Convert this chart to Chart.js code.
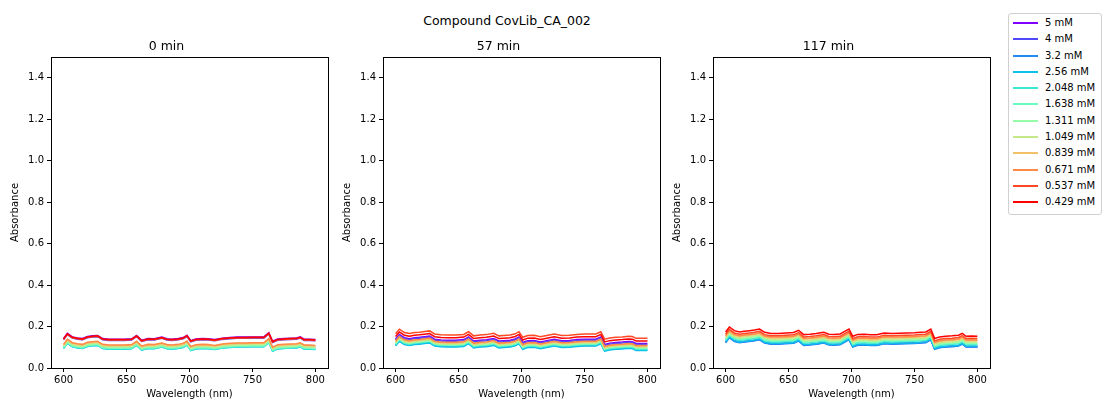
<!DOCTYPE html>
<html>
<head>
<meta charset="utf-8">
<script src="https://cdn.jsdelivr.net/npm/chart.js@4"></script>
<style>
  body { margin: 0; width: 1102px; height: 403px; background: #fff; position: relative; overflow: hidden; font-family: "DejaVu Sans", sans-serif; color: #000; }
  .panel { position: absolute; top: 37px; width: 327px; height: 366px; }
  #suptitle { position: absolute; top: 13px; left: 0; width: 1014px; text-align: center; font-size: 12.5px; }
  #legend { position: absolute; left: 1008px; top: 13px; width: 92px; height: 199px; border: 1px solid #d0d0d0; border-radius: 3px; padding-top: 1px; font-size: 10px; }
  #legend .row { height: 16.3px; line-height: 16.3px; position: relative; white-space: nowrap; }
  #legend .swatch { position: absolute; left: 4px; top: 7px; width: 25px; height: 2px; }
  #legend .lab { position: absolute; left: 36px; }
</style>
</head>
<body>
<div id="suptitle">Compound CovLib_CA_002</div>
<div class="panel" style="left:5px"><canvas id="c0"></canvas></div>
<div class="panel" style="left:337px"><canvas id="c1"></canvas></div>
<div class="panel" style="left:667px"><canvas id="c2"></canvas></div>
<div id="legend"></div>
<script>
// wavelengths (nm)
const wavelengths = [600, 603, 607, 611, 615, 619, 623, 627, 631, 636, 642, 648, 654, 658, 662, 667, 672, 678, 682, 686,
  691, 695, 698, 701, 705, 710, 715, 720, 726, 732, 738, 744, 750, 755, 759, 763, 766, 770, 775, 780, 785, 788, 791, 795, 800];

const concLabels = ["5 mM", "4 mM", "3.2 mM", "2.56 mM", "2.048 mM", "1.638 mM", "1.311 mM", "1.049 mM", "0.839 mM", "0.671 mM", "0.537 mM", "0.429 mM"];
const lineColors = ["#8000ff", "#5148fc", "#238af5", "#0cc1e8", "#3ae8d6", "#68fcc1", "#97fca7", "#c5e88a", "#f3c16a", "#ff8a48", "#ff4824", "#ff0000"];
const panelTitles = ["0 min", "57 min", "117 min"];

// top trace of each panel
const top0 = [0.140, 0.165, 0.148, 0.143, 0.140, 0.150, 0.153, 0.155, 0.140, 0.137, 0.137, 0.137, 0.139, 0.155, 0.132, 0.140, 0.139, 0.147, 0.139, 0.137,
  0.140, 0.145, 0.156, 0.130, 0.138, 0.140, 0.139, 0.135, 0.142, 0.145, 0.147, 0.147, 0.148, 0.148, 0.148, 0.168, 0.127, 0.138, 0.140, 0.142, 0.143, 0.148, 0.137, 0.137, 0.135];
const top57 = [0.165, 0.187, 0.171, 0.166, 0.171, 0.173, 0.176, 0.179, 0.164, 0.160, 0.159, 0.159, 0.162, 0.175, 0.155, 0.159, 0.161, 0.167, 0.155, 0.157,
  0.159, 0.165, 0.175, 0.148, 0.157, 0.158, 0.151, 0.157, 0.164, 0.157, 0.158, 0.162, 0.164, 0.164, 0.164, 0.175, 0.139, 0.145, 0.148, 0.150, 0.153, 0.152, 0.143, 0.143, 0.143];
const top117 = [0.174, 0.198, 0.180, 0.174, 0.177, 0.180, 0.183, 0.188, 0.172, 0.167, 0.167, 0.169, 0.171, 0.182, 0.161, 0.163, 0.166, 0.172, 0.163, 0.162,
  0.164, 0.178, 0.188, 0.153, 0.162, 0.163, 0.160, 0.160, 0.169, 0.167, 0.168, 0.169, 0.170, 0.172, 0.174, 0.188, 0.142, 0.150, 0.153, 0.155, 0.158, 0.167, 0.153, 0.154, 0.153];

// each concentration's distance from the top trace, legend order
const gap0 = [0.002, -0.004, -0.041, -0.046, -0.045, -0.042, -0.038, -0.034, -0.029, -0.026, -0.002, 0];
const gap57 = [-0.025, -0.030, -0.055, -0.058, -0.052, -0.049, -0.046, -0.043, -0.038, -0.035, 0, -0.013];
const gap117 = [-0.049, -0.050, -0.052, -0.048, -0.041, -0.037, -0.033, -0.028, -0.022, -0.018, -0.011, 0];

const xTicks = [600, 650, 700, 750, 800];
const yTicks = [0, 0.2, 0.4, 0.6, 0.8, 1.0, 1.2, 1.4];

const tops = [top0, top57, top117];
const gaps = [gap0, gap57, gap117];

// box round the plot area, like matplotlib spines
const frame = {
  id: "frame",
  afterDraw(chart) {
    const a = chart.chartArea, ctx = chart.ctx;
    ctx.save();
    ctx.strokeStyle = "#000";
    ctx.lineWidth = 1;
    ctx.strokeRect(Math.round(a.left) + 0.5, Math.round(a.top) + 0.5, Math.round(a.width), Math.round(a.height));
    ctx.restore();
  }
};

const tickFont = { family: "DejaVu Sans", size: 10 };

const pintarPanel = (k) => {
  const datasets = concLabels.map((lab, s) => ({
    label: lab,
    data: wavelengths.map((w, i) => ({ x: w, y: tops[k][i] + gaps[k][s] })),
    borderColor: lineColors[s],
    borderWidth: 1.5,
    pointRadius: 0,
    fill: false,
    tension: 0,
    order: concLabels.length - 1 - s // last one on top, like matplotlib
  }));

  new Chart(document.getElementById("c" + k), {
    type: "line",
    data: { datasets },
    plugins: [frame],
    options: {
      animation: false,
      responsive: true,
      maintainAspectRatio: false,
      devicePixelRatio: 1,
      layout: { padding: { left: 0, right: 4, top: 0, bottom: 0 } },
      plugins: {
        legend: { display: false },
        tooltip: { enabled: false },
        title: { display: true, text: panelTitles[k], color: "#000", font: { family: "DejaVu Sans", size: 12.5, weight: "normal" }, padding: { top: 2, bottom: 3 } }
      },
      scales: {
        x: {
          type: "linear", min: 590, max: 810,
          afterBuildTicks: (s) => { s.ticks = xTicks.map((v) => ({ value: v })); },
          afterFit: (s) => { s.height = 35; },
          ticks: { color: "#000", font: tickFont, padding: 2, maxRotation: 0 },
          grid: { display: true, drawOnChartArea: false, drawTicks: true, tickLength: 4, color: "#000" },
          border: { display: false },
          title: { display: true, text: "Wavelength (nm)", color: "#000", font: tickFont, padding: { top: 0, bottom: 3 } }
        },
        y: {
          type: "linear", min: 0, max: 1.5,
          afterBuildTicks: (s) => { s.ticks = yTicks.map((v) => ({ value: v })); },
          afterFit: (s) => { s.width = 46; },
          ticks: { color: "#000", font: tickFont, padding: 3, callback: (v) => v.toFixed(1) },
          grid: { display: true, drawOnChartArea: false, drawTicks: true, tickLength: 4, color: "#000" },
          border: { display: false },
          title: { display: true, text: "Absorbance", color: "#000", font: tickFont, padding: { top: 4, bottom: 4 } }
        }
      }
    }
  });
};

[0, 1, 2].forEach(pintarPanel);

// legend
const leg = document.getElementById("legend");
concLabels.forEach((lab, s) => {
  const row = document.createElement("div");
  row.className = "row";
  row.innerHTML = '<span class="swatch" style="background:' + lineColors[s] + '"></span><span class="lab">' + lab + "</span>";
  leg.appendChild(row);
});
</script>
</body>
</html>
